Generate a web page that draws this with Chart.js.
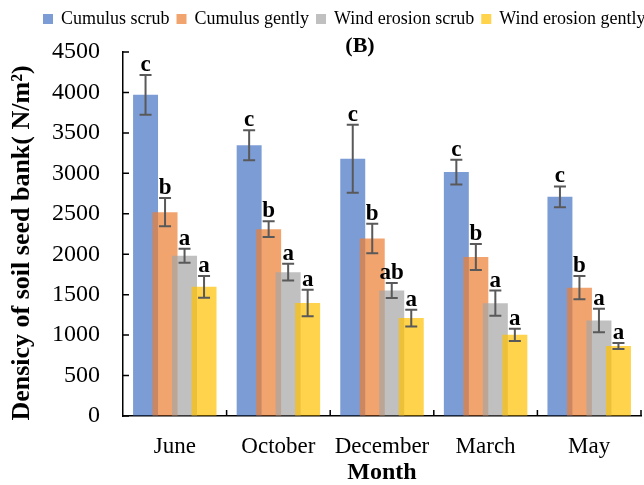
<!DOCTYPE html>
<html>
<head>
<meta charset="utf-8">
<script src="https://cdn.jsdelivr.net/npm/chart.js@4/dist/chart.umd.min.js"></script>
<style>
  body { margin: 0; background: #fff; }
  canvas { display: block; }
</style>
</head>
<body>
<canvas id="myChart" width="644" height="485"></canvas>
<script>
const months = ['June', 'October', 'December', 'March', 'May'];
const seriesNames = ['Cumulus scrub', 'Cumulus gently', 'Wind erosion scrub', 'Wind erosion gently'];
const seriesColors = ['rgba(68,114,196,0.7)', 'rgba(237,125,49,0.7)', 'rgba(165,165,165,0.7)', 'rgba(255,192,0,0.7)'];

const cumulusScrub = [3970, 3347, 3180, 3015, 2710];
const cumulusGently = [2520, 2310, 2195, 1965, 1587];
const windScrub = [1982, 1778, 1552, 1395, 1180];
const windGently = [1597, 1397, 1210, 1003, 865];

const cumulusScrubErr = [245, 185, 420, 152, 128];
const cumulusGentlyErr = [175, 97, 183, 160, 145];
const windScrubErr = [87, 104, 93, 155, 145];
const windGentlyErr = [135, 163, 104, 77, 37];

const cumulusScrubSig = ['c', 'c', 'c', 'c', 'c'];
const cumulusGentlySig = ['b', 'b', 'b', 'b', 'b'];
const windScrubSig = ['a', 'a', 'ab', 'a', 'a'];
const windGentlySig = ['a', 'a', 'a', 'a', 'a'];

const yTicksStep = 500;
const yMax = 4500;

const serif = '"Liberation Serif", "Times New Roman", serif';

const allValues = [cumulusScrub, cumulusGently, windScrub, windGently];
const allErrors = [cumulusScrubErr, cumulusGentlyErr, windScrubErr, windGentlyErr];
const allSig = [cumulusScrubSig, cumulusGentlySig, windScrubSig, windGentlySig];

// bars drawn left to right so each one sits over its neighbour,
// then error bars, letters, inward ticks, legend and labels
const decorPlugin = {
    id: 'decor',
    beforeDatasetsDraw(chart) {
        for (let i = 0; i < chart.data.datasets.length; i++) {
            chart.getDatasetMeta(i).controller.draw();
        }
        return false;
    },
    afterDraw(chart) {
        const ctx = chart.ctx;
        const y = chart.scales.y;
        const x = chart.scales.x;
        const area = chart.chartArea;

        ctx.save();
        chart.data.datasets.forEach((ds, i) => {
            const meta = chart.getDatasetMeta(i);
            meta.data.forEach((bar, j) => {
                const top = y.getPixelForValue(allValues[i][j] + allErrors[i][j]);
                const bottom = y.getPixelForValue(allValues[i][j] - allErrors[i][j]);
                ctx.strokeStyle = '#595959';
                ctx.lineWidth = 2;
                ctx.beginPath();
                ctx.moveTo(bar.x, top);
                ctx.lineTo(bar.x, bottom);
                ctx.moveTo(bar.x - 6, top);
                ctx.lineTo(bar.x + 6, top);
                ctx.moveTo(bar.x - 6, bottom);
                ctx.lineTo(bar.x + 6, bottom);
                ctx.stroke();

                ctx.fillStyle = '#000';
                ctx.font = 'bold 23px ' + serif;
                ctx.textAlign = 'center';
                ctx.textBaseline = 'alphabetic';
                ctx.fillText(allSig[i][j], bar.x, top - 4);
            });
        });

        // inward ticks
        ctx.strokeStyle = '#000';
        ctx.lineWidth = 1.5;
        ctx.beginPath();
        y.ticks.forEach((t, k) => {
            const py = y.getPixelForTick(k);
            ctx.moveTo(area.left, py);
            ctx.lineTo(area.left + 6, py);
        });
        for (let k = 1; k <= months.length; k++) {
            const px = x.getPixelForValue(k - 0.5);
            ctx.moveTo(px, area.bottom);
            ctx.lineTo(px, area.bottom - 6);
        }
        ctx.stroke();

        // legend
        ctx.font = '18px ' + serif;
        ctx.textBaseline = 'middle';
        ctx.textAlign = 'left';
        let lx = 43;
        const ly = 19;
        seriesNames.forEach((name, i) => {
            ctx.fillStyle = seriesColors[i];
            ctx.fillRect(lx, ly - 5, 10, 10);
            ctx.fillStyle = '#000';
            ctx.fillText(name, lx + 18, ly);
            lx += 18 + ctx.measureText(name).width + 7;
        });

        // panel label
        ctx.font = 'bold 22px ' + serif;
        ctx.textAlign = 'center';
        ctx.fillText('(B)', 360, 46);

        // y axis title
        ctx.translate(22, 243);
        ctx.rotate(-Math.PI / 2);
        ctx.font = 'bold 26px ' + serif;
        ctx.fillText('Densicy of soil seed bank( N/m²)', 0, 0);
        ctx.restore();
    }
};

const datasets = seriesNames.map((name, i) => ({
    label: name,
    data: allValues[i],
    backgroundColor: seriesColors[i],
    borderWidth: 0,
    categoryPercentage: 0.753,
    barPercentage: 1.28
}));

new Chart(document.getElementById('myChart'), {
    type: 'bar',
    data: { labels: months, datasets: datasets },
    plugins: [decorPlugin],
    options: {
        responsive: false,
        devicePixelRatio: 1,
        animation: false,
        layout: { padding: { top: 52, right: 3, left: 0, bottom: 0 } },
        plugins: {
            legend: { display: false },
            title: { display: false },
            tooltip: { enabled: false }
        },
        scales: {
            x: {
                grid: { drawOnChartArea: false, drawTicks: false },
                border: { display: true, color: '#000', width: 1.5 },
                ticks: { color: '#000', font: { family: serif, size: 23 }, padding: 17 },
                title: {
                    display: true,
                    text: 'Month',
                    color: '#000',
                    font: { family: serif, size: 24, weight: 'bold', lineHeight: 1 },
                    padding: { top: 0, bottom: 0 }
                },
                afterFit(scale) { scale.height = 69; }
            },
            y: {
                min: 0,
                max: yMax,
                grid: { drawOnChartArea: false, drawTicks: false },
                border: { display: true, color: '#000', width: 1.5 },
                ticks: {
                    stepSize: yTicksStep,
                    color: '#000',
                    font: { family: serif, size: 24 },
                    padding: 23,
                    callback: (v) => String(v)
                },
                afterFit(scale) { scale.width = 123; }
            }
        }
    }
});
</script>
</body>
</html>
